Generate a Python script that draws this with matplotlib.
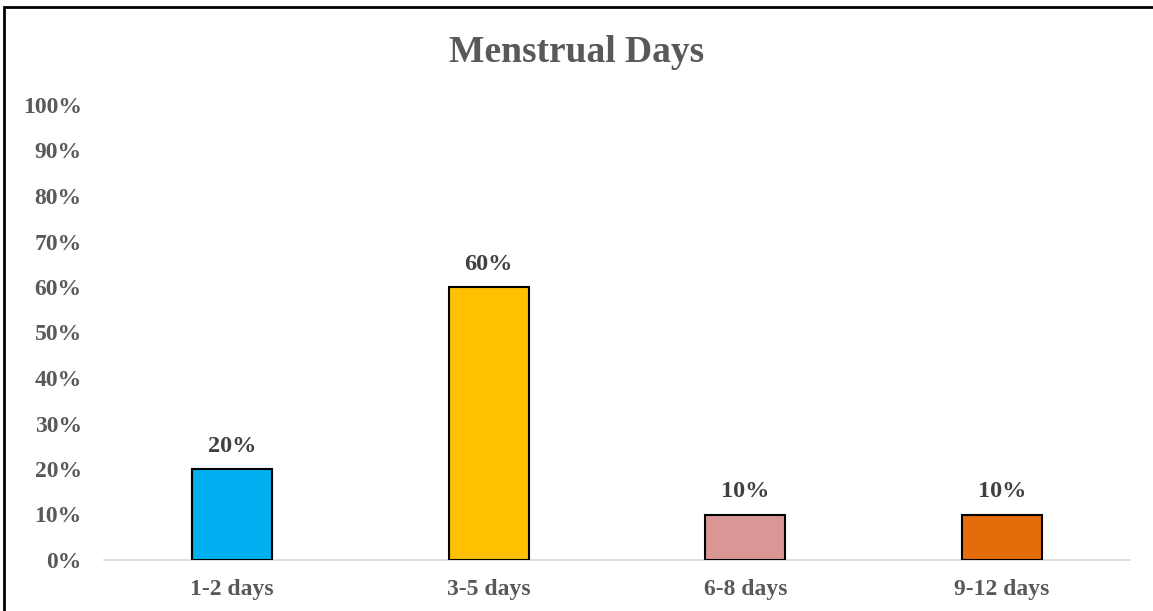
import matplotlib.pyplot as plt
from matplotlib.patches import Rectangle

categories = ['1-2 days', '3-5 days', '6-8 days', '9-12 days']
percent = [20, 60, 10, 10]
bar_colors = ['#00B0F0', '#FFC000', '#D99694', '#E46C0A']
yticks = list(range(0, 101, 10))

plt.rcParams['font.family'] = ['Liberation Serif', 'DejaVu Serif']
plt.rcParams['font.weight'] = 'bold'
text_color = '#595959'

fig = plt.figure(figsize=(11.53, 6.11), dpi=100)
ax = fig.add_axes([104 / 1153, 1 - 560 / 611, (1130 - 104) / 1153, (560 - 105) / 611])

x = list(range(len(categories)))
bars = ax.bar(x, percent, width=0.31, color=bar_colors, edgecolor='black', linewidth=1.5, zorder=3)

for b, v in zip(bars, percent):
    ax.annotate(f'{v}%', (b.get_x() + b.get_width() / 2, v), xytext=(0, 9),
                textcoords='offset points', ha='center', va='bottom',
                fontsize=17.5, fontweight='bold', color='#404040')

ax.set_xlim(-0.5, len(categories) - 0.5)
ax.set_ylim(0, 100)
ax.set_yticks(yticks)
ax.set_yticklabels([f'{t}%' for t in yticks])
ax.set_xticks(x)
ax.set_xticklabels(categories)
ax.tick_params(axis='both', length=0, labelsize=17, labelcolor=text_color)
ax.tick_params(axis='y', pad=16)
ax.tick_params(axis='x', pad=14)
for lab in ax.get_xticklabels() + ax.get_yticklabels():
    lab.set_fontweight('bold')

for side in ['left', 'right', 'top']:
    ax.spines[side].set_visible(False)
ax.spines['bottom'].set_color('#D9D9D9')
ax.spines['bottom'].set_linewidth(1.2)

fig.text(0.5, 1 - 52 / 611, 'Menstrual Days', ha='center', va='center',
         fontsize=27, fontweight='bold', color=text_color)

# outer frame of the chart area
fig.patches.append(Rectangle((4 / 1153, -0.05), 1.05, 1 - 7 / 611 + 0.05,
                             transform=fig.transFigure, fill=False,
                             edgecolor='black', linewidth=2))

fig.savefig('out.png', dpi=100)
